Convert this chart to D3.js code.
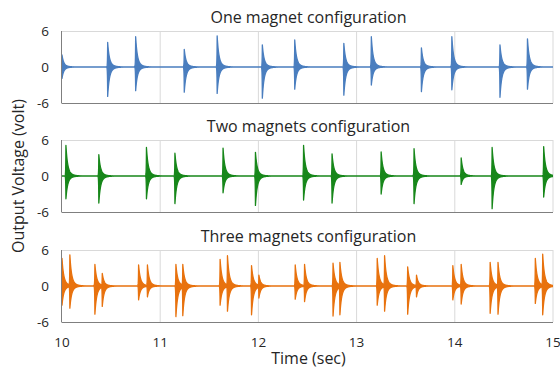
<!DOCTYPE html>
<html><head><meta charset="utf-8">
<script src="https://cdn.jsdelivr.net/npm/d3@7"></script>
<style>body{margin:0;background:#fff}svg{display:block}text{font-family:"Open Sans",sans-serif;fill:#262626}</style>
</head><body><svg id="c" width="560" height="372"></svg>
<script>
// ---- data ----
const panelTitles = ["One magnet configuration","Two magnets configuration","Three magnets configuration"];
const panelColors = ["#4a7ebf","#17871a","#e8720e"];
const xTicks = [10,11,12,13,14,15];
const yTicks = [-6,0,6];
// burst onset times (s), positive peak (V), negative peak (V)
const oneTimes = [10.0,10.465,10.75,11.245,11.58,12.04,12.37,12.87,13.15,13.66,13.97,14.46,14.74];
const oneMax   = [2.0,4.1,5.05,2.95,5.2,3.7,4.5,3.95,5.05,3.2,5.05,3.7,4.7];
const oneMin   = [-1.9,-4.9,-3.95,-4.2,-4.4,-5.2,-3.7,-4.7,-3.0,-4.1,-3.8,-5.05,-3.7];
const twoTimes = [10.04,10.375,10.86,11.15,11.64,11.97,12.46,12.75,13.25,13.585,14.065,14.38,14.905];
const twoMax   = [5.1,3.55,4.75,3.8,4.65,3.95,5.1,3.7,4.0,4.55,3.0,4.75,4.9];
const twoMin   = [-3.8,-4.5,-3.8,-4.6,-2.8,-4.9,-4.0,-4.5,-3.0,-4.6,-1.4,-5.45,-3.5];
const threeTimes = [10.0,10.08,10.335,10.41,10.78,10.87,11.16,11.23,11.61,11.685,11.93,12.005,12.375,12.47,12.76,12.83,13.21,13.285,13.52,13.61,13.98,14.065,14.36,14.44,14.82,14.895];
const threeMax   = [4.6,5.2,3.6,2.1,3.5,3.5,3.6,3.6,4.45,5.05,3.4,1.8,3.5,3.6,3.8,3.95,4.6,5.05,3.2,1.8,3.4,3.6,3.95,3.95,4.6,5.3];
const threeMin   = [-3.2,-3.7,-4.7,-3.4,-2.3,-1.8,-5.1,-4.95,-3.2,-4.2,-4.8,-2.0,-2.2,-2.6,-5.0,-4.8,-3.2,-4.2,-4.7,-1.8,-2.3,-3.0,-4.55,-4.7,-2.9,-4.8];

const panels = [
  {times: oneTimes, max: oneMax, min: oneMin},
  {times: twoTimes, max: twoMax, min: twoMin},
  {times: threeTimes, max: threeMax, min: threeMin}
];

// ---- layout ----
const svg = d3.select("#c");
const left = 62, right = 553;
const tops = [31, 140, 250], ph = 72;
const x = d3.scaleLinear().domain([10,15]).range([left,right]);

// decaying-burst envelope shape
function g(dt){
  if (dt < 0) return Math.exp(dt/0.002);
  return 0.78*Math.exp(-dt/0.016) + 0.22*Math.exp(-dt/0.04);
}

panels.forEach((p,i)=>{
  const top = tops[i];
  const y = d3.scaleLinear().domain([-6,6]).range([top+ph, top]);
  const gp = svg.append("g");
  // grid / frame
  gp.selectAll("line.v").data([11,12,13,14,15]).join("line")
    .attr("x1",d=>x(d)).attr("x2",d=>x(d)).attr("y1",top).attr("y2",top+ph)
    .attr("stroke","#d9d9d9").attr("stroke-width",1);
  gp.append("line").attr("x1",left).attr("x2",right).attr("y1",top+0.5).attr("y2",top+0.5)
    .attr("stroke","#d9d9d9");
  // title
  gp.append("text").attr("x",(left+right)/2+1).attr("y",top-8).attr("text-anchor","middle")
    .style("font-size","16px").text(panelTitles[i]);
  // y tick labels
  gp.selectAll("text.yt").data(yTicks).join("text")
    .attr("x",left-13).attr("y",d=>y(d)).attr("dy","0.35em").attr("text-anchor","end")
    .style("font-size","13.5px").text(d=>d);
  // signal
  const samples = [];
  for (let t=10; t<=15.0001; t+=0.0008) samples.push(t);
  p.times.forEach(t0=>{samples.push(t0); samples.push(t0+0.0002);});
  samples.sort((a,b)=>a-b);
  const data = samples.map(t=>{
    let hi=0, lo=0;
    p.times.forEach((t0,k)=>{
      const e = g(t-t0);
      hi = Math.max(hi, p.max[k]*e);
      lo = Math.min(lo, p.min[k]*e);
    });
    return {t, hi, lo};
  });
  const clipId = "clip"+i;
  svg.append("clipPath").attr("id",clipId).append("rect")
    .attr("x",left).attr("y",top-2).attr("width",right-left).attr("height",ph+4);
  const area = d3.area().x(d=>x(d.t)).y0(d=>y(d.lo)).y1(d=>y(d.hi));
  gp.append("path").datum(data).attr("clip-path",`url(#${clipId})`)
    .attr("d",area).attr("fill",panelColors[i]).attr("stroke",panelColors[i])
    .attr("stroke-width",1.3).attr("stroke-linejoin","round");
  // axes lines
  gp.append("line").attr("x1",left-0.5).attr("x2",left-0.5).attr("y1",top).attr("y2",top+ph)
    .attr("stroke","#7f7f7f").attr("stroke-width",1);
  gp.append("line").attr("x1",left-0.5).attr("x2",right).attr("y1",top+ph+0.5).attr("y2",top+ph+0.5)
    .attr("stroke","#7f7f7f").attr("stroke-width",1);
});

// x tick labels (bottom panel)
svg.selectAll("text.xt").data(xTicks).join("text")
  .attr("x",d=>x(d)).attr("y",347).attr("text-anchor","middle")
  .style("font-size","13.5px").text(d=>d);
svg.append("text").attr("x",(left+right)/2+1).attr("y",364).attr("text-anchor","middle")
  .style("font-size","16px").text("Time (sec)");
svg.append("text").attr("transform","translate(24,176) rotate(-90)").attr("text-anchor","middle")
  .style("font-size","16px").text("Output Voltage (volt)");
</script></body></html>
